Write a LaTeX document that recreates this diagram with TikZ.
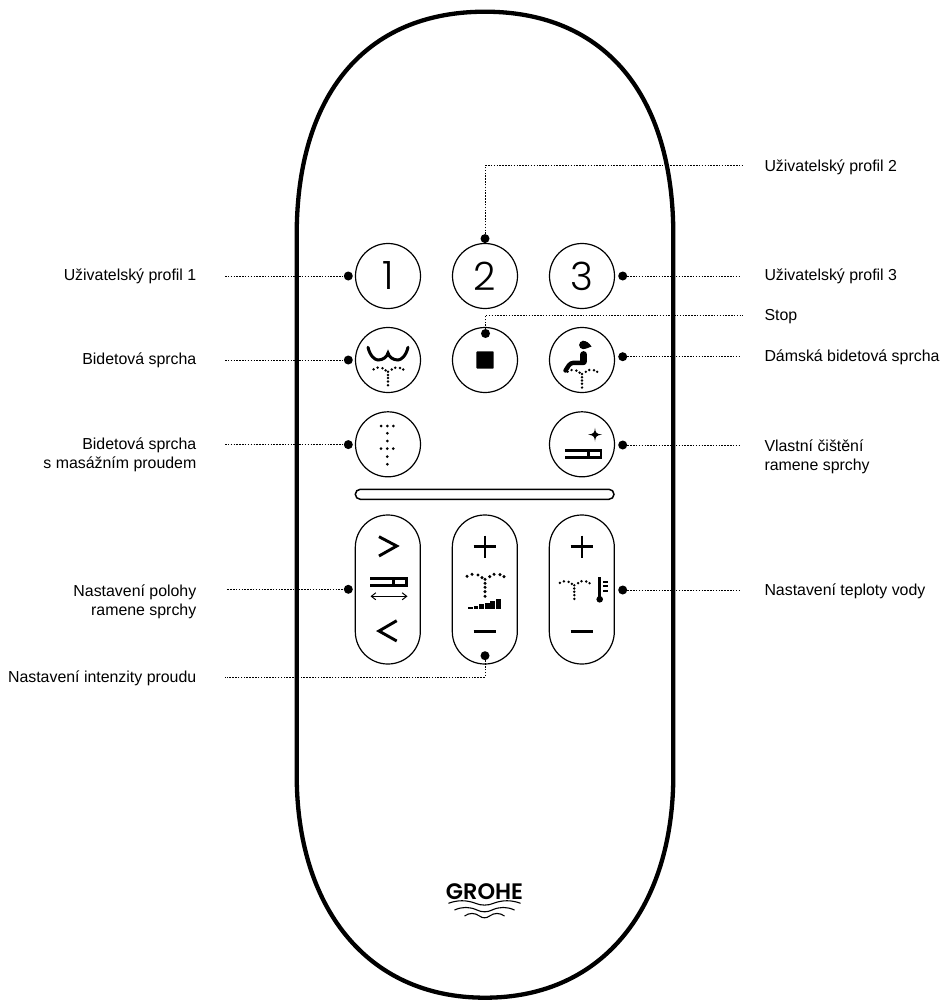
\documentclass[tikz,border=0pt]{standalone}
\usepackage{fontspec}
\setmainfont{Liberation Sans}
\newfontfamily\digitfont[UprightFont=* Light]{Poppins}
\newfontfamily\logofont[UprightFont=* SemiBold]{Poppins}
\usetikzlibrary{arrows.meta,calc,positioning}
\tikzset{
  body/.style={draw,line width=4.3pt},
  btn/.style={draw,circle,minimum size=65pt,inner sep=0pt,line width=1.2pt,font=\digitfont\fontsize{39}{39}\selectfont},
  pill/.style={draw,rounded corners=32.4pt,line width=1.2pt},
  bar/.style={draw,rounded corners=5pt,line width=1.5pt},
  pin/.style={circle,fill=black,minimum size=9pt,inner sep=0pt},
  leader/.style={dash pattern=on 1.5pt off 1.35pt,line width=0.9pt},
  lab-l/.style={anchor=east,align=right,inner sep=0pt,font=\fontsize{15.9}{19.5}\selectfont},
  lab-r/.style={anchor=west,align=left,inner sep=0pt,font=\fontsize{15.9}{19.5}\selectfont},
  sym/.style={line width=2.9pt},
  spray/.pic={
    \foreach \px/\py in {-18/-3,-13/-5,-7/-4.3,-3/-1.7,0/0,4.7/-2.7,9/-5,15/-4.7,19/-2.7,0/4,0/8,0/12.3,0/17}
      \fill (\px,\py) circle (1.7);
  },
}

\begin{document}
\begin{tikzpicture}[x=1pt,y=-1pt]
  \useasboundingbox (0,0) rectangle (944,1000);

  % housing
  \draw[body] (296.7,235) .. controls (296.7,95) and (365,11.7) .. (485,11.7)
    .. controls (605,11.7) and (673.3,95) .. (673.3,235) -- (673.3,775)
    .. controls (673.3,905) and (605,997.7) .. (485,997.7)
    .. controls (365,997.7) and (296.7,905) .. (296.7,775) -- cycle;

  % round buttons
  \node[btn] (b1) at (388,276) {1};
  \node[btn] (b2) at (485,276) {2};
  \node[btn] (b3) at (582,276) {3};
  \node[btn] (b4) at (388,360) {};
  \node[btn] (b5) at (485,360) {};
  \node[btn] (b6) at (582,360) {};
  \node[btn] (b7) at (388,444.3) {};
  \node[btn] (b8) at (582,444.3) {};

  % bar and pills
  \draw[bar] (355.3,489.3) rectangle (614,499.3);
  \draw[pill] (355.3,515) rectangle (420.3,664);
  \draw[pill] (452.3,515) rectangle (517.3,664);
  \draw[pill] (549.3,515) rectangle (614.3,664);

  % icon: bidet
  \draw[line width=3pt,line cap=round] (368,347.3) .. controls (370,356) and (375,360) .. (378,360)
    .. controls (383,360) and (387,357) .. (388,353) .. controls (389,357) and (393,360) .. (398,360)
    .. controls (401,360) and (406,356) .. (408,347.3);
  \pic[scale=0.8] at (388,371.7) {spray};

  % icon: stop
  \fill[rounded corners=0.7pt] (476.4,351.4) rectangle (493.6,368.6);

  % icon: lady
  \fill (583.3,345) circle (4.2);
  \fill (582,340.8) .. controls (587,340.8) and (589,343) .. (591.5,346.5) .. controls (588,348) and (586,349) .. (582,349) -- cycle;
  \draw[line width=6.8pt,line cap=round] (583.7,354.5) -- (583.7,361.5);
  \draw[line width=4.4pt,line cap=round,rounded corners=3pt] (583.7,362.8) -- (570.5,362.8) -- (565.5,370.5);
  \pic[scale=0.8] at (582,374) {spray};

  % icon: massage
  \foreach \px/\py in {-7/-18.3,-0.7/-18.3,5.3/-18.3,-0.7/-11,-0.7/-3.3,-7/4.3,-0.7/4.3,5.3/4.3,-0.7/12.3,-0.7/20}
    \fill ($(b7)+(\px,\py)$) circle (1.5);

  % icon: cleaning
  \draw[line width=2.4pt] (565.3,450.6) -- (600.7,450.6) -- (600.7,457.3) -- (565.3,457.3);
  \draw[line width=2.4pt] (588.3,450.6) -- (588.3,457.3);
  \fill (595,427.8) .. controls (595.5,432.5) and (596,434) .. (602,434.6)
    .. controls (596,435.2) and (595.5,437) .. (595,441.5)
    .. controls (594.5,437) and (594,435.2) .. (588,434.6)
    .. controls (594,434) and (594.5,432.5) .. (595,427.8) -- cycle;

  % pill 1
  \draw[sym] (379,536.7) -- (396.7,546) -- (379,556);
  \draw[line width=3pt] (370.3,578.4) -- (406.3,578.4) -- (406.3,585) -- (370.3,585);
  \draw[line width=3pt] (393,578.4) -- (393,585);
  \draw[{Straight Barb[length=4.5pt,width=7pt]}-{Straight Barb[length=4.5pt,width=7pt]},line width=1pt] (370.5,596.3) -- (407.5,596.3);
  \draw[sym] (396.7,620.7) -- (379,631) -- (396.7,641);

  % pill 2
  \draw[sym] (473.7,546.7) -- (496.3,546.7);
  \draw[sym] (485,535.7) -- (485,558.3);
  \pic at (485,579.3) {spray};
  \foreach \i/\h in {0/2,1/3.2,2/4.4,3/6,4/7.6,5/9.4}
    \fill ({468+\i*5.6},608.7) rectangle ({468+\i*5.6+4.7},{608.7-\h});
  \draw[sym] (473.7,631.7) -- (496.3,631.7);

  % pill 3
  \draw[sym] (570.7,546.7) -- (593.3,546.7);
  \draw[sym] (582,535.7) -- (582,558.3);
  \pic[scale=0.8] at (574.3,585.3) {spray};
  \draw[line width=2.6pt] (599.7,577.3) -- (599.7,599);
  \fill (599.7,599.3) circle (3.3);
  \foreach \ty in {581.7,586.3,591.3}
    \draw[line width=2.2pt] (603.3,\ty) -- (608.3,\ty);
  \draw[sym] (570.7,631.7) -- (593.3,631.7);

  % logo
  \node[inner sep=0pt,font=\logofont\fontsize{22.4}{22.4}\selectfont] (logo) at (484.5,891.5) {GROHE};
  \foreach \wy/\wx in {903.3/36,910/30,916/20}
    \draw[line width=1.1pt] (484.5-\wx,\wy) .. controls (484.5-\wx*0.75,\wy-3.4) and (484.5-\wx*0.5,\wy-3.4) .. (484.5-\wx*0.25,\wy)
      .. controls (484.5-\wx*0.1,\wy+2.4) and (484.5+\wx*0.1,\wy+2.4) .. (484.5+\wx*0.25,\wy)
      .. controls (484.5+\wx*0.5,\wy-3.4) and (484.5+\wx*0.75,\wy-3.4) .. (484.5+\wx,\wy);

  % pins
  \node[pin] (p1) at (348.3,276) {};
  \node[pin] (p2) at (485,238.6) {};
  \node[pin] (p3) at (622.7,276) {};
  \node[pin] (p4) at (348.3,360) {};
  \node[pin] (p5) at (485.5,333.5) {};
  \node[pin] (p6) at (622.7,356.7) {};
  \node[pin] (p7) at (348.3,444.6) {};
  \node[pin] (p8) at (622.7,445) {};
  \node[pin] (p9) at (348.3,589.3) {};
  \node[pin] (p10) at (485,655.7) {};
  \node[pin] (p11) at (622.7,590) {};

  % labels
  \node[lab-l] (t1) at (196.5,276.5) {Uživatelský profil 1};
  \node[lab-r] (t2) at (764.3,167) {Uživatelský profil 2};
  \node[lab-r] (t3) at (764.3,276) {Uživatelský profil 3};
  \node[lab-r] (t5) at (764.3,316.5) {Stop};
  \node[lab-l] (t4) at (196.5,360.5) {Bidetová sprcha};
  \node[lab-r] (t6) at (764.3,357.5) {Dámská bidetová sprcha};
  \node[lab-l] (t7) at (196.5,455) {Bidetová sprcha\\s masážním proudem};
  \node[lab-r] (t8) at (764.3,457) {Vlastní čištění\\ramene sprchy};
  \node[lab-l] (t9) at (196.5,602) {Nastavení polohy\\ramene sprchy};
  \node[lab-l] (t10) at (196.5,678.5) {Nastavení intenzity proudu};
  \node[lab-r] (t11) at (764.3,591) {Nastavení teploty vody};

  % leaders
  \coordinate (c1) at (225,276);
  \coordinate (c2) at (743,165.7);
  \coordinate (c3) at (740,276);
  \coordinate (c4) at (225,360);
  \coordinate (c5) at (743,315);
  \coordinate (c6) at (740,356.7);
  \coordinate (c7) at (225,444.6);
  \coordinate (c8) at (740,445);
  \coordinate (c9) at (227.3,589.3);
  \coordinate (c10) at (225,677);
  \coordinate (c11) at (740,590);
  \draw[leader] (c1) -- (p1);
  \draw[leader] (p2) |- (c2);
  \draw[leader] (p3) -- (c3);
  \draw[leader] (c4) -- (p4);
  \draw[leader] (p5) |- (c5);
  \draw[leader] (p6) -- (c6);
  \draw[leader] (c7) -- (p7);
  \draw[leader] (p8) -- (c8);
  \draw[leader] (c9) -- (p9);
  \draw[leader] (p10) |- (c10);
  \draw[leader] (p11) -- (c11);
\end{tikzpicture}
\end{document}
